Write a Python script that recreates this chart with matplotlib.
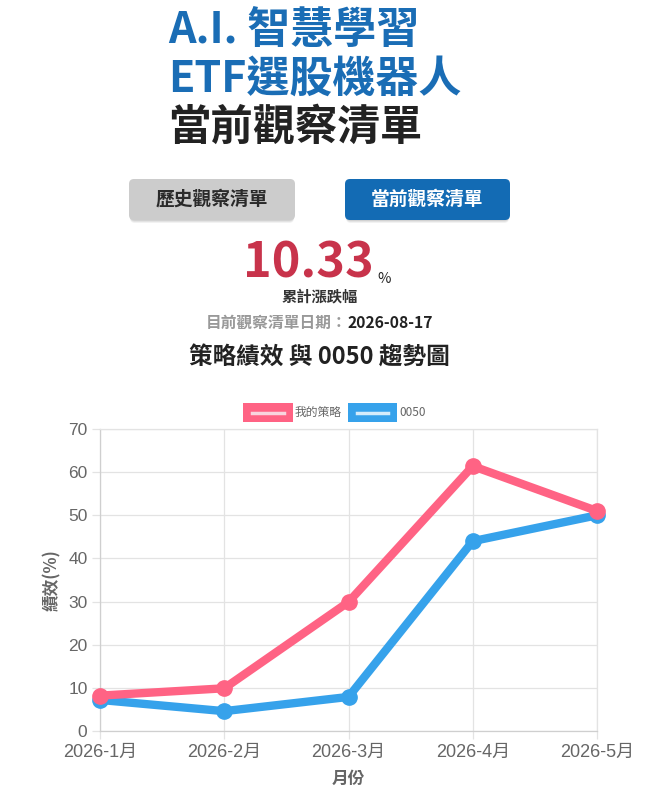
import matplotlib
matplotlib.use("Agg")
import matplotlib.pyplot as plt
from matplotlib.patches import FancyBboxPatch, Rectangle
from matplotlib.lines import Line2D

# data ------------------------------------------------
months = ["2026-1月", "2026-2月", "2026-3月", "2026-4月", "2026-5月"]
strategy = [8.2, 9.9, 29.9, 61.4, 51.0]
etf0050 = [7.2, 4.6, 7.9, 44.0, 50.0]
yticks = [0, 10, 20, 30, 40, 50, 60, 70]
series_names = ["我的策略", "0050"]

total_return = "10.33"
watch_date = "2026-08-17"

PINK = "#ff6384"
BLUE = "#36a2eb"
TITLE_BLUE = "#1a6db5"
BTN_BLUE = "#136bb4"
RED = "#c8334b"

W, H = 655, 801
CJK = ["Noto Sans CJK TC", "DejaVu Sans"]
ARIAL = ["Liberation Sans", "Noto Sans CJK TC"]

fig = plt.figure(figsize=(W / 100, H / 100), dpi=100)


def fx(x):
    return x / W


def fy(y):
    return 1 - y / H


def pix(x, y):
    # pixel coords (top-left origin) -> display coords
    return (x, H - y)


# title --------------------------------------------------
fig.text(fx(168), fy(30), "A.I. 智慧學習", family=CJK, weight="black",
         fontsize=31, color=TITLE_BLUE, ha="left", va="center")
fig.text(fx(168), fy(79), "ETF選股機器人", family=CJK, weight="black",
         fontsize=31, color=TITLE_BLUE, ha="left", va="center")
fig.text(fx(168), fy(128), "當前觀察清單", family=CJK, weight="black",
         fontsize=30.5, color="#222222", ha="left", va="center")


# buttons ------------------------------------------------
def button(x0, x1, y0, y1, face, label, tcolor):
    for k, a in [(4, 0.05), (3, 0.06), (2, 0.07)]:
        sh = FancyBboxPatch(pix(x0 + 1, y1 + k - 1), x1 - x0 - 2, y1 - y0,
                            boxstyle="round,pad=0,rounding_size=5",
                            transform=None, facecolor="black", edgecolor="none",
                            alpha=a, zorder=1)
        fig.patches.append(sh)
    b = FancyBboxPatch(pix(x0, y1), x1 - x0, y1 - y0,
                       boxstyle="round,pad=0,rounding_size=5",
                       transform=None, facecolor=face, edgecolor="none", zorder=2)
    fig.patches.append(b)
    fig.text(fx((x0 + x1) / 2), fy((y0 + y1) / 2), label, family=CJK,
             weight="bold", fontsize=13.5, color=tcolor, ha="center",
             va="center", zorder=3)


button(129, 295, 179, 220, "#cccccc", "歷史觀察清單", "#2a2a2a")
button(345, 510, 179, 220, BTN_BLUE, "當前觀察清單", "white")

# return number ------------------------------------------
fig.text(fx(374), fy(277), total_return, family=CJK, weight="bold",
         fontsize=35, color=RED, ha="right", va="baseline")
fig.text(fx(377), fy(283), "%", family=CJK, fontsize=10.5,
         color="#222222", ha="left", va="baseline")
fig.text(fx(320), fy(296), "累計漲跌幅", family=CJK, weight="bold",
         fontsize=11, color="#333333", ha="center", va="center")
fig.text(fx(348), fy(323), "目前觀察清單日期：", family=CJK, weight="bold",
         fontsize=11.3, color="#999999", ha="right", va="center")
fig.text(fx(348), fy(323), watch_date, family=CJK, weight="bold",
         fontsize=11.3, color="#222222", ha="left", va="center")
fig.text(fx(319), fy(358), "策略績效 與 0050 趨勢圖", family=CJK, weight="bold",
         fontsize=17, color="#222222", ha="center", va="center")

# legend ------------------------------------------------
legend_items = [(243, 293, PINK, "#f8d5de", series_names[0], 295),
                (348, 397, BLUE, "#d4ecfb", series_names[1], 399)]
for x0, x1, c, inner, name, tx in legend_items:
    fig.patches.append(Rectangle(pix(x0, 422), x1 - x0, 19, transform=None,
                                 facecolor=c, edgecolor="none"))
    fig.lines.append(Line2D([x0 + 9, x1 - 9], [H - 412.5, H - 412.5],
                            transform=None, color=inner, linewidth=2.5))
    fig.text(fx(tx), fy(412), name, family=CJK, fontsize=8.5,
             color="#666666", ha="left", va="center")

# chart --------------------------------------------------
ax = fig.add_axes([fx(100), fy(731), fx(597) - fx(100), fy(429) - fy(731)])
x = list(range(len(months)))
ax.plot(x, etf0050, color=BLUE, linewidth=6, marker="o", markersize=11,
        solid_joinstyle="round", zorder=3, clip_on=False)
ax.plot(x, strategy, color=PINK, linewidth=6, marker="o", markersize=11,
        solid_joinstyle="round", zorder=4, clip_on=False)

ax.set_xlim(0, len(months) - 1)
ax.set_ylim(0, 70)
ax.set_xticks(x)
ax.set_xticklabels(months, family=ARIAL, fontsize=13, color="#666666")
ax.set_yticks(yticks)
ax.set_yticklabels([str(v) for v in yticks], family=ARIAL, fontsize=12.5,
                   color="#666666")
ax.grid(True, color="#e3e3e3", linewidth=0.9, zorder=0)
ax.set_axisbelow(True)
for s in ax.spines.values():
    s.set_color("#e3e3e3")
    s.set_linewidth(0.9)
ax.spines["bottom"].set_color("#cfcfcf")
ax.spines["left"].set_color("#cfcfcf")
ax.tick_params(axis="both", length=6, width=0.9, color="#e3e3e3", pad=3)

ax.set_ylabel("績效(%)", family=CJK, weight="black", fontsize=12,
              color="#666666", labelpad=5)
ax.set_xlabel("月份", family=CJK, weight="black", fontsize=12,
              color="#666666", labelpad=7)

fig.savefig("out.png", dpi=100, facecolor="white")
